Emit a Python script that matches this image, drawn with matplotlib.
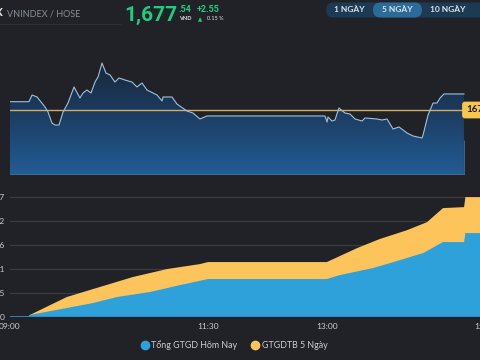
import matplotlib
matplotlib.use("Agg")
import matplotlib.pyplot as plt
import numpy as np
from matplotlib.colors import LinearSegmentedColormap
from matplotlib.patches import Polygon, FancyBboxPatch
from matplotlib.lines import Line2D

plt.rcParams['font.family'] = ['Lato', 'DejaVu Sans']

# ---- data ----
# intraday index (minutes since 09:00)
price_min = [0, 14.4, 16.7, 20.5, 26.5, 28.8, 31.8, 34.1, 37.1, 40.2, 43.9, 48.5, 53, 55.3,
             58.3, 61.4, 64.4, 66.7, 69.7, 72.7, 75.8, 79.5, 82.6, 87.1, 92.4, 96.2, 100,
             103.8, 111.4, 115.2, 115.9, 122.7, 126.5, 134.1, 138.6, 143.9, 149.2, 238.6,
             240.2, 240.9, 243.9, 246.2, 249.2, 253.8, 257.6, 261.4, 266.7, 268.9, 278,
             281.8, 285.6, 290.2, 294.7, 300.8, 305.3, 312.1, 312.9, 316.7, 320.5, 323.5,
             325.8, 328.8, 343.9]
price_val = [1676.31, 1676.31, 1677.37, 1677.06, 1675.47, 1674.67, 1672.92, 1672.60, 1672.60,
             1674.67, 1676.10, 1678.65, 1676.90, 1677.69, 1678.17, 1677.69, 1679.44, 1680.24,
             1682.46, 1680.87, 1680.56, 1679.44, 1680.08, 1679.76, 1679.44, 1678.65, 1679.28,
             1678.17, 1677.37, 1676.42, 1677.06, 1677.06, 1675.94, 1674.83, 1674.51, 1673.56,
             1674.04, 1674.04, 1673.08, 1673.88, 1673.24, 1673.40, 1675.31, 1674.51, 1674.35,
             1673.56, 1673.24, 1673.72, 1673.56, 1673.40, 1673.56, 1671.97, 1672.29, 1671.33,
             1670.86, 1670.54, 1671.01, 1674.19, 1676.10, 1676.10, 1676.90, 1677.54, 1677.54]
ref_price = 1674.99

# cumulative trading value
avg_min = [0, 14, 15, 43, 68, 93, 119, 144, 150, 240, 263, 280, 301, 316, 328, 344, 345, 371]
avg_val = [0, 0, 400, 4000, 6000, 8000, 9600, 10600, 11000, 11000, 13800, 15600, 17400,
           19000, 21800, 22000, 24000, 24000]
today_min = [0, 14, 15, 43, 63, 81, 106, 129, 150, 240, 250, 275, 288, 313, 328, 344, 345, 371]
today_val = [0, 0, 400, 1800, 2800, 4000, 5000, 6400, 7600, 7600, 8400, 9800, 10800, 12800,
             15000, 15000, 16800, 16800]

y_ticks = [0, 4805.4, 9610.8, 14416.2, 19221.6, 24027]
y_labels = ["0", "4,805", "9,611", "14,416", "19,222", "24,027"]
x_ticks = [0, 150, 240, 360]
x_labels = ["09:00", "11:30", "13:00", "15:00"]
legend_labels = ["Tổng GTGD Hôm Nay", "GTGDTB 5 Ngày"]

BG = "#202227"
BLUE = "#2ea1db"
YELLOW = "#fcc45b"
GREEN = "#22cc7d"
TXT = "#c9cdd2"

W, H = 480, 360
fig = plt.figure(figsize=(4.8, 3.6), dpi=100, facecolor=BG)


def px_axes(x0, y0, x1, y1):
    return fig.add_axes([x0 / W, 1 - y1 / H, (x1 - x0) / W, (y1 - y0) / H])


XMAX = (500 - 10) / 1.32

# ---- top price chart ----
ax1 = px_axes(10, 45, 500, 175)
ax1.set_facecolor(BG)
ymin1, ymax1 = 1664.65, 1685.33
ax1.set_xlim(0, XMAX)
ax1.set_ylim(ymin1, ymax1)
for s in ax1.spines.values():
    s.set_visible(False)
ax1.set_xticks([])
ax1.set_yticks([])

verts = [(price_min[0], ymin1)] + list(zip(price_min, price_val)) + [(price_min[-1], ymin1)]
poly = Polygon(verts, closed=True, facecolor="none", edgecolor="none")
ax1.add_patch(poly)
cmap = LinearSegmentedColormap.from_list("g", ["#225c96", "#1c3b5e", "#17212f"])
grad = np.linspace(0, 1, 256).reshape(-1, 1)
im = ax1.imshow(grad, extent=[0, XMAX, ymin1, ymax1], origin="lower", aspect="auto",
                cmap=cmap, zorder=1)
im.set_clip_path(poly)
ax1.plot(price_min, price_val, color="#9fc1dc", lw=0.8, zorder=3)
ax1.axhline(ref_price, color="#cdb065", lw=1.0, zorder=2)
ax1.plot([0, price_min[-1]], [ymin1 + 0.15, ymin1 + 0.15], color="#3f6a96", lw=0.8, zorder=2)
ax1.vlines(price_min[-1], ymin1, ymin1 + 5.5, color="#3d6690", lw=0.7, zorder=2)

# ---- bottom value chart ----
ax2 = px_axes(10, 187, 500, 317)
ax2.set_facecolor(BG)
ax2.set_xlim(0, XMAX)
ax2.set_ylim(0, 130 * 200.2)
ax2.fill_between(avg_min, avg_val, color=YELLOW, lw=0, zorder=2)
ax2.fill_between(today_min, today_val, color=BLUE, lw=0, zorder=3)
ax2.axhline(0, color="#2b8fc4", lw=2, zorder=4)
ax2.set_yticks(y_ticks)
ax2.set_yticklabels(y_labels)
ax2.set_xticks(x_ticks)
ax2.set_xticklabels(x_labels)
ax2.grid(axis="y", color="#3a3d43", lw=0.8, zorder=0)
ax2.tick_params(axis="both", length=0, labelsize=6, labelcolor=TXT)
ax2.tick_params(axis="y", pad=3.6)
ax2.tick_params(axis="x", pad=4)
for s in ax2.spines.values():
    s.set_visible(False)

handles = [Line2D([], [], marker="o", ls="", color=BLUE, markersize=6),
           Line2D([], [], marker="o", ls="", color=YELLOW, markersize=6)]
fig.legend(handles, legend_labels, loc="center", bbox_to_anchor=(234 / W, 1 - 345 / H),
           ncol=2, frameon=False, fontsize=6.4, labelcolor=TXT, handletextpad=0.2,
           columnspacing=1.5, handlelength=1.0)

# ---- overlay: header and price label ----
ov = fig.add_axes([0, 0, 1, 1], zorder=10)
ov.set_xlim(0, W)
ov.set_ylim(H, 0)
ov.axis("off")
ov.patch.set_alpha(0)

ov.text(-5, 13, "X", color="#e8e8e8", fontsize=8.5, fontweight="bold", va="center")
ov.text(7, 14, "VNINDEX / HOSE", color="#8b9096", fontsize=6.5, va="center")
ov.plot([0, 120], [24, 24], color="#2d3036", lw=0.8)
ov.text(124, 21, "1,677", color=GREEN, fontsize=15, fontweight="bold", va="baseline",
        family=["Roboto", "DejaVu Sans"])
ov.text(178, 9, ".54", color=GREEN, fontsize=6.5, fontweight="bold", va="center",
        family=["Roboto", "DejaVu Sans"])
ov.text(179, 19, "VND", color="#e5e5e5", fontsize=4, fontweight="bold", va="center")
ov.text(197, 9, "+2.55", color=GREEN, fontsize=6.5, fontweight="bold", va="center",
        family=["Roboto", "DejaVu Sans"])
ov.text(198, 19.5, "▲", color=GREEN, fontsize=4, va="center",
        family=["DejaVu Sans"])
ov.text(207, 19, "0.15 %", color="#e5e5e5", fontsize=4, va="center")

ov.add_patch(FancyBboxPatch((326, 2.5), 170, 15, boxstyle="round,pad=0,rounding_size=7.5",
                            facecolor="#1d3a54", edgecolor="none"))
ov.add_patch(FancyBboxPatch((373, 2.5), 49, 15, boxstyle="round,pad=0,rounding_size=7.5",
                            facecolor="#2b6b98", edgecolor="none"))
for cx, lab in [(349, "1 NGÀY"), (397, "5 NGÀY"), (448, "10 NGÀY")]:
    ov.text(cx, 9.5, lab, color="#dde3ea", fontsize=6, fontweight="bold",
            ha="center", va="center")

ov.text(466, 110, f"{ref_price:.2f}", color="#1b1b1b", fontsize=7, fontweight="bold",
        va="center", ha="left",
        bbox=dict(boxstyle="round,pad=0.4,rounding_size=0.3", facecolor="#f7c64f",
                  edgecolor="none"))

fig.savefig("out.png", dpi=100, facecolor=BG)
